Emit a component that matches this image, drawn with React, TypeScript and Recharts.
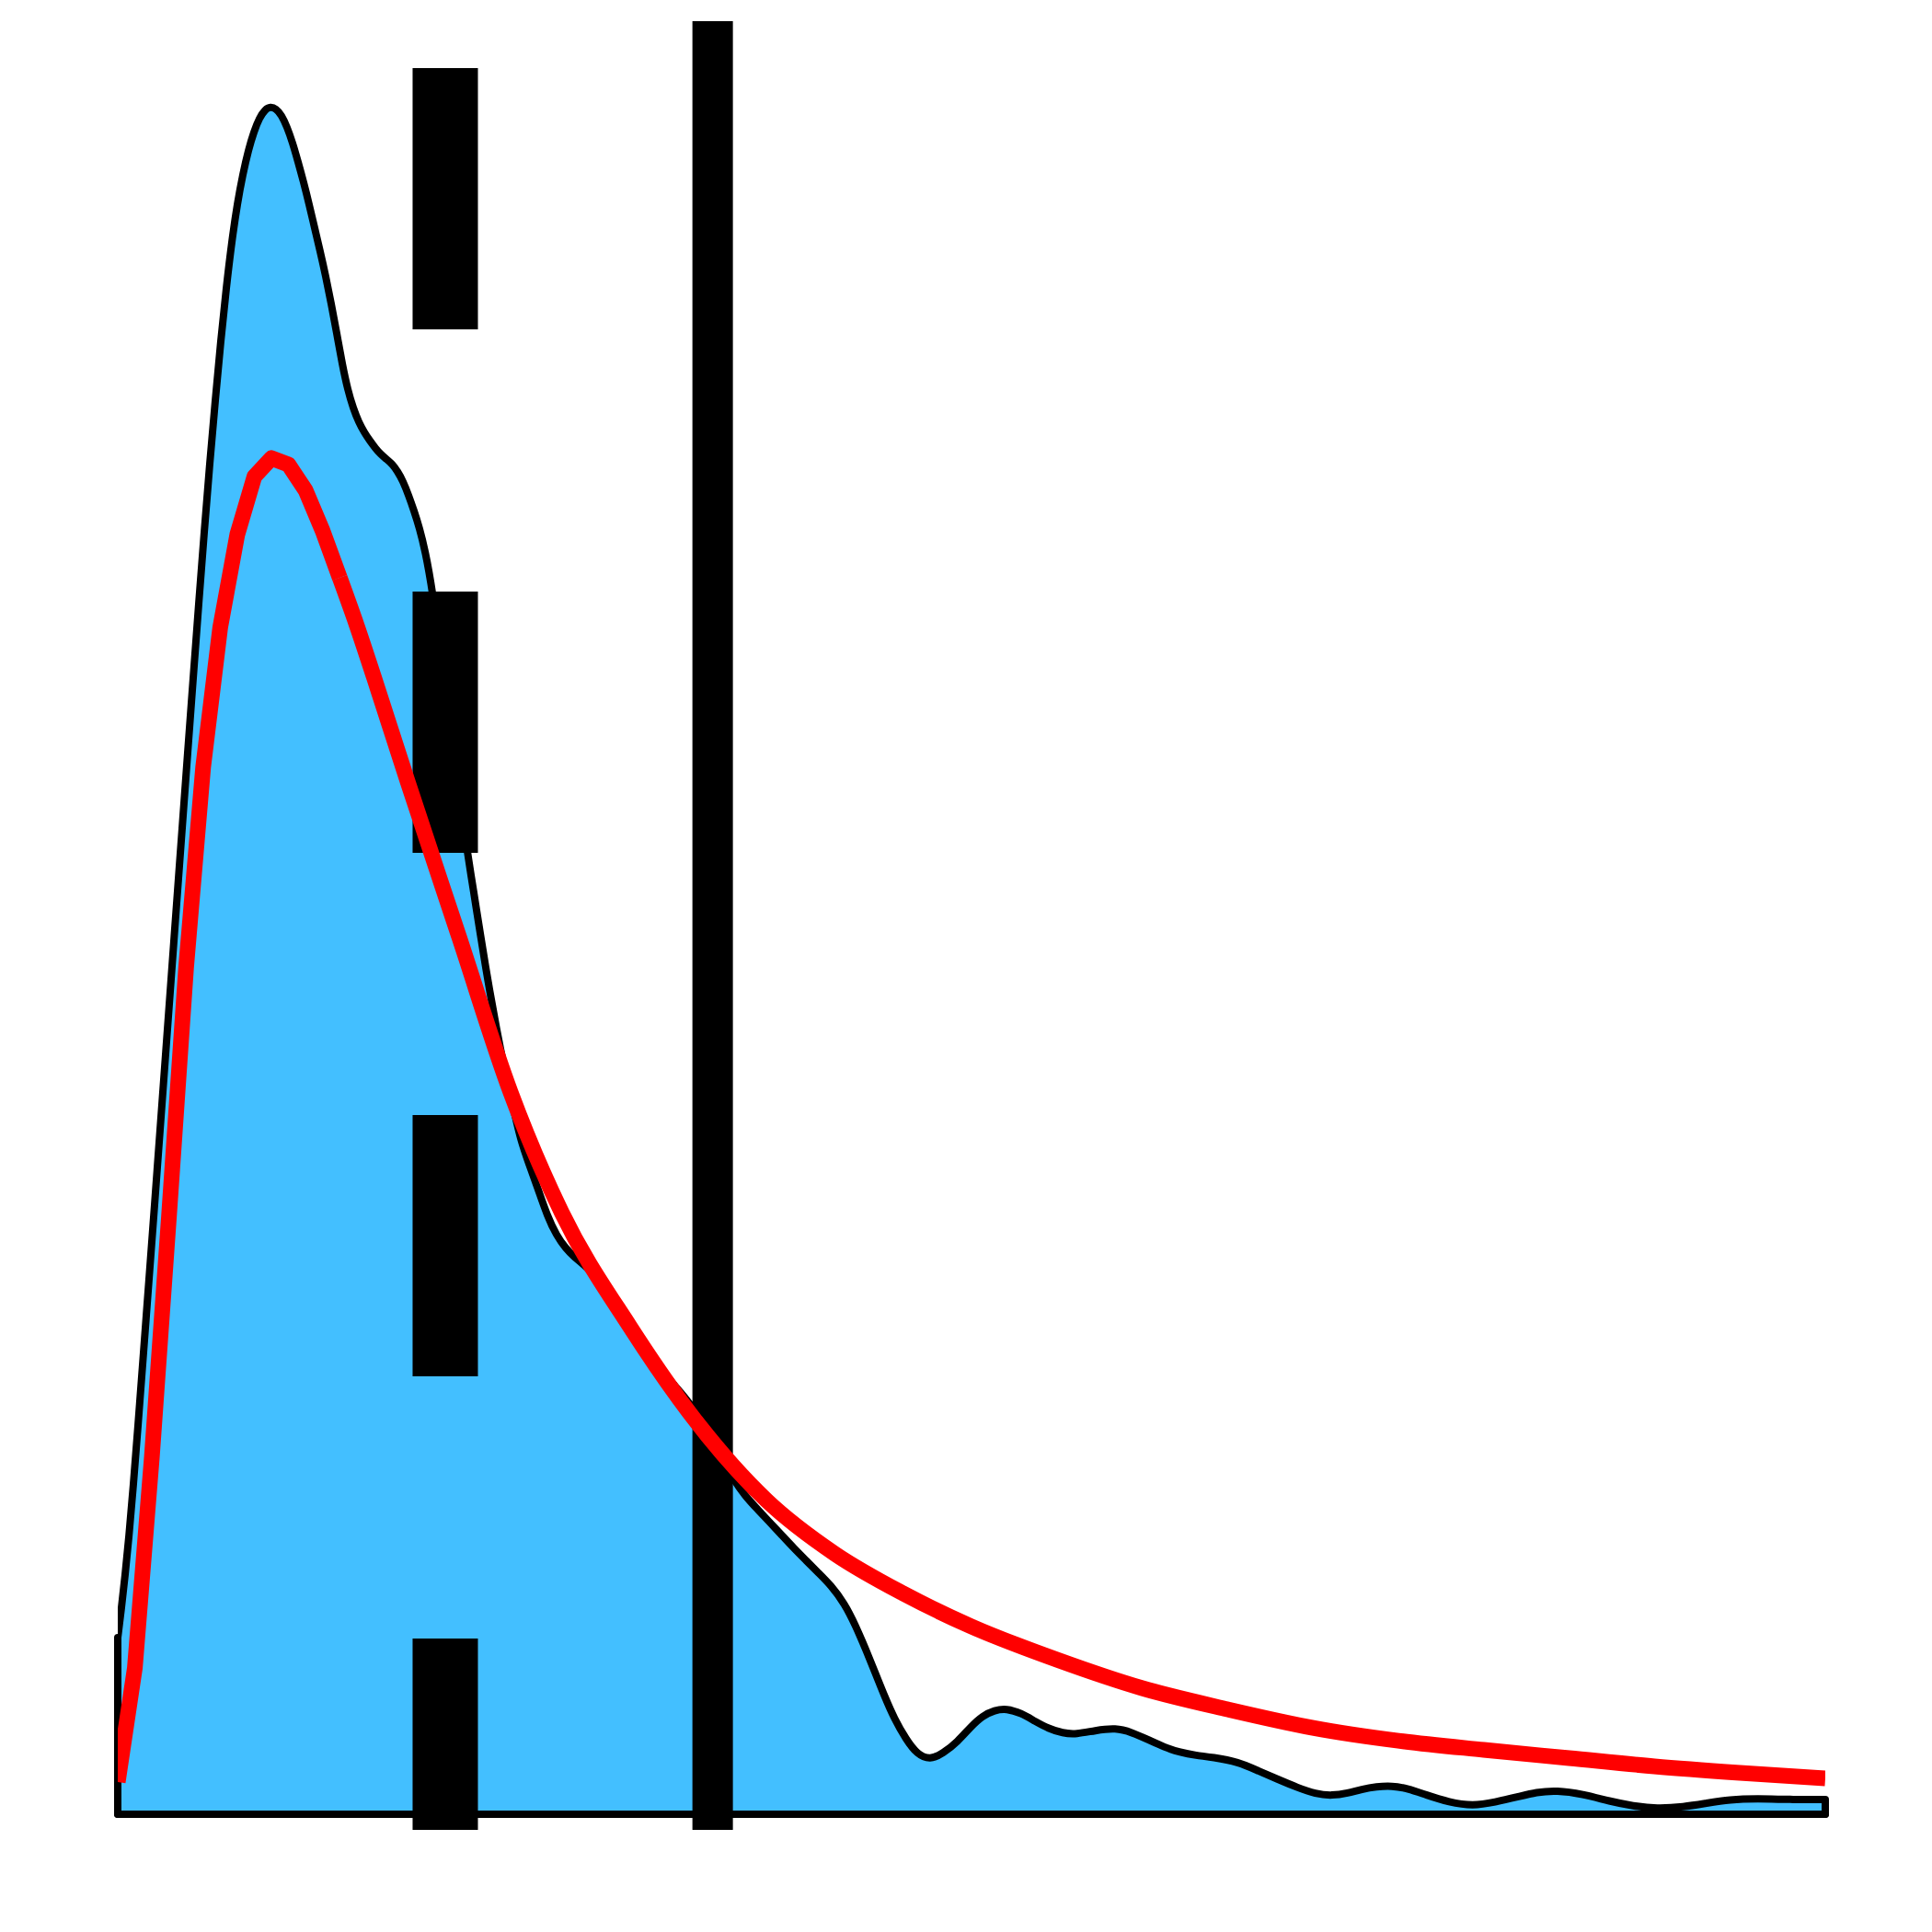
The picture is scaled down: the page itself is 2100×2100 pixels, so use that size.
import { ComposedChart, Area, Line, XAxis, YAxis, ReferenceLine } from 'recharts';

// density estimate of the sample (x in units, y density)
const kdeX = [
  0, 0.216, 0.431, 0.647, 0.916, 1.185, 1.509, 1.832, 2.155, 2.478, 2.802, 3.125, 3.448, 3.772, 4.095, 4.418, 4.741, 5.065,
  5.388, 5.711, 6.034, 6.358, 6.681, 7.004, 7.328, 7.651, 7.974, 8.297, 8.621, 8.944, 9.267, 9.591, 9.914, 10.237, 10.56,
  10.884, 11.207, 11.53, 11.853, 12.177, 12.5, 12.823, 13.147, 13.47, 13.793, 14.116, 14.44, 14.763, 15.086, 15.409, 15.733,
  16.056, 16.379, 16.703, 17.026, 17.349, 17.672, 17.996, 18.427, 18.966, 19.504, 20.043, 20.42, 20.851, 21.282, 21.713,
  22.198, 22.629, 23.114, 23.599, 24.084, 24.623, 25.162, 25.7, 26.239, 26.778, 27.317, 27.856, 28.394, 28.933, 29.472,
  30.011, 30.711, 31.358, 32.004, 32.705, 33.513, 34.321, 35.129, 36.045, 36.746, 37.446, 38.147, 38.901, 39.601, 40.302,
  41.002, 41.756, 42.565, 43.211, 43.858, 44.397, 44.935, 45.474, 46.175, 46.821, 47.575, 48.33, 49.192, 49.946, 50.647,
  51.347, 52.047, 52.909, 53.718, 54.526, 55.334, 56.142, 57.22, 58.459, 59.375, 60.345, 61.261, 62.231, 63.147, 64.116,
  65.625, 66.81, 67.942, 69.073, 70.151, 71.121, 72.037, 72.845, 73.707, 74.623, 75.539, 76.616, 77.963, 79.364, 80.657,
  82.004, 83.082, 84.267, 85.776, 87.392, 88.739, 90.14, 91.703, 93.05, 94.397, 96.013, 97.899, 100,
];
const kdeY = [
  0.985, 1.149, 1.334, 1.539, 1.837, 2.165, 2.576, 2.986, 3.397, 3.817, 4.238, 4.659, 5.08, 5.5, 5.921, 6.337, 6.752, 7.152,
  7.537, 7.886, 8.22, 8.517, 8.774, 8.984, 9.148, 9.282, 9.384, 9.461, 9.507, 9.523, 9.512, 9.477, 9.41, 9.323, 9.215,
  9.102, 8.979, 8.846, 8.717, 8.579, 8.425, 8.261, 8.086, 7.943, 7.84, 7.763, 7.706, 7.66, 7.619, 7.583, 7.558,
  7.532, 7.491, 7.435, 7.358, 7.27, 7.173, 7.05, 6.829, 6.434, 6.039, 5.664, 5.397, 5.141, 4.879, 4.628,
  4.371, 4.166, 3.961, 3.756, 3.627, 3.484, 3.335, 3.227, 3.155, 3.104, 3.063, 3.012, 2.955, 2.884, 2.807,
  2.73, 2.627, 2.54, 2.458, 2.381, 2.293, 2.165, 2.022, 1.868, 1.775, 1.703, 1.632, 1.555, 1.483, 1.416,
  1.349, 1.278, 1.175, 1.052, 0.908, 0.78, 0.652, 0.534, 0.416, 0.334, 0.303, 0.339, 0.405, 0.487, 0.549,
  0.58, 0.59, 0.564, 0.518, 0.477, 0.452, 0.446, 0.467, 0.482, 0.457, 0.416, 0.375, 0.344, 0.328, 0.318,
  0.292, 0.241, 0.195, 0.149, 0.113, 0.103, 0.118, 0.139, 0.154, 0.159, 0.144, 0.108, 0.067, 0.046, 0.067,
  0.097, 0.123, 0.133, 0.113, 0.072, 0.046, 0.031, 0.041, 0.062, 0.082, 0.087, 0.082, 0.082,
];

// fitted distribution: coarse grid near the mode, smoother tail
const fitHeadX = [0, 1, 2, 3, 4, 5, 6, 7, 8, 9, 10, 11, 12, 13];
const fitHeadY = [0.18, 0.816, 1.996, 3.335, 4.72, 5.839, 6.619, 7.137, 7.46, 7.563, 7.527, 7.383, 7.157, 6.896];
const fitTailX = [13, 14, 15, 17, 20, 23, 26, 30, 34, 38, 42, 46, 50, 55, 60, 65, 70, 75, 80, 85, 90, 95, 100];
const fitTailY = [6.896, 6.629, 6.342, 5.752, 4.89, 4.028, 3.356, 2.719, 2.175, 1.75, 1.452, 1.231, 1.047, 0.862, 0.703, 0.585, 0.482, 0.41, 0.359, 0.313, 0.267, 0.231, 0.2];

// median (dashed) and mean (solid)
const median = 19.18;
const mean = 34.84;

const kde = kdeX.map((x, i) => ({ x, y: kdeY[i] }));
const fitHead = fitHeadX.map((x, i) => ({ x, y: fitHeadY[i] }));
const fitTail = fitTailX.map((x, i) => ({ x, y: fitTailY[i] }));

const RED = '#ff0000';

export default function App() {
  return (
    <div style={{ position: 'absolute', left: 0, top: 0, width: 2100, height: 2100, background: '#fff' }}>
      <ComposedChart width={2100} height={2100} margin={{ top: 23, right: 116, bottom: 111, left: 128 }}>
        <XAxis type="number" dataKey="x" domain={[0, 100]} allowDataOverflow hide />
        <YAxis type="number" domain={[-0.0872, 10]} allowDataOverflow hide />
        <Area
          data={kde}
          dataKey="y"
          type="basis"
          fill="#43bfff"
          fillOpacity={1}
          stroke="#000"
          strokeWidth={8}
          strokeLinejoin="round"
          isAnimationActive={false}
          dot={false}
          activeDot={false}
        />
        {/* outline of the filled region */}
        <ReferenceLine segment={[{ x: 0, y: 0 }, { x: 0, y: kdeY[0] }]} stroke="#000" strokeWidth={8} strokeLinecap="round" />
        <ReferenceLine segment={[{ x: 0, y: 0 }, { x: 100, y: 0 }]} stroke="#000" strokeWidth={8} strokeLinecap="round" />
        <ReferenceLine segment={[{ x: 100, y: 0 }, { x: 100, y: kdeY[kdeY.length - 1] }]} stroke="#000" strokeWidth={8} strokeLinecap="round" />
        <ReferenceLine x={median} stroke="#000" strokeWidth={71} strokeDasharray="284 285" strokeDashoffset={76} />
        <ReferenceLine x={mean} stroke="#000" strokeWidth={44} />
        <Line
          data={fitHead}
          dataKey="y"
          type="linear"
          stroke={RED}
          strokeWidth={17}
          strokeLinejoin="round"
          dot={false}
          activeDot={false}
          isAnimationActive={false}
        />
        <Line
          data={fitTail}
          dataKey="y"
          type="monotone"
          stroke={RED}
          strokeWidth={17}
          strokeLinejoin="round"
          dot={false}
          activeDot={false}
          isAnimationActive={false}
        />
      </ComposedChart>
    </div>
  );
}
